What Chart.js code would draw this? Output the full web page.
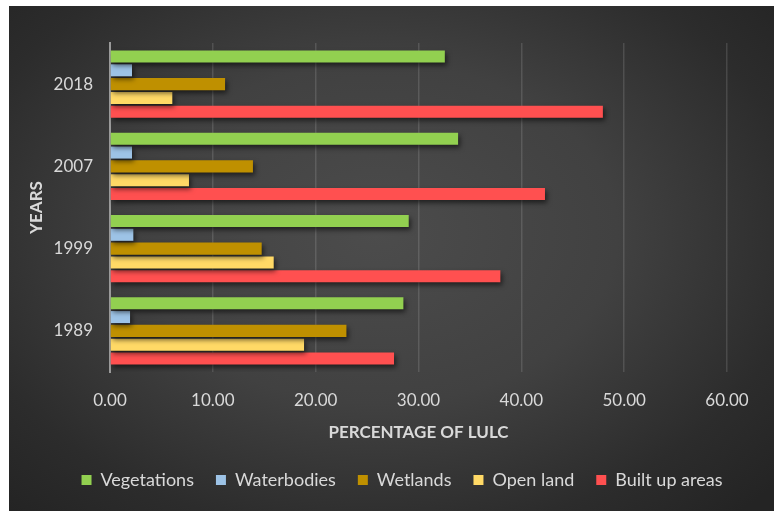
<!DOCTYPE html>
<html>
<head>
<meta charset="utf-8">
<script src="https://cdn.jsdelivr.net/npm/chart.js@4"></script>
<style>
    body { margin: 0; background: #fff; }
    #wrap { position: absolute; left: 9px; top: 6px; width: 765px; height: 505px; }
    #lulcChart {
        background: radial-gradient(ellipse 70% 75% at 48% 45%, #4c4c4c 0%, #414141 45%, #2c2c2c 80%, #242424 100%);
    }
</style>
</head>
<body>
<div id="wrap"><canvas id="lulcChart" width="765" height="505"></canvas></div>
<script>
"use strict";

var years = ['2018', '2007', '1999', '1989'];
var vegetations = [32.56, 33.85, 29.05, 28.53];
var waterbodies = [2.14, 2.14, 2.27, 1.95];
var wetlands = [11.19, 13.90, 14.75, 22.99];
var openLand = [6.06, 7.68, 15.92, 18.87];
var builtUp = [47.93, 42.30, 37.96, 27.62];

(function () {
    var textColor = '#d9d9d9';
    var fontFamily = 'Lato, "Open Sans", sans-serif';

    // soft drop shadow under the bars
    var barShadow = {
        id: 'barShadow',
        beforeDatasetsDraw: function (chart) {
            var ctx = chart.ctx;
            ctx.save();
            ctx.shadowColor = 'rgba(0, 0, 0, 0.55)';
            ctx.shadowBlur = 5;
            ctx.shadowOffsetX = 2;
            ctx.shadowOffsetY = 3;
        },
        afterDatasetsDraw: function (chart) {
            chart.ctx.restore();
        }
    };

    // legend sits a bit right of the plot centre, like the original
    var legendShift = {
        id: 'legendShift',
        afterLayout: function (chart) {
            chart.legend.right += 68;
        }
    };

    function series(label, data, color) {
        return {
            label: label,
            data: data,
            backgroundColor: color,
            borderWidth: 0,
            categoryPercentage: 0.84,
            barPercentage: 0.87
        };
    }

    var ctx = document.getElementById('lulcChart');
    var lulcChart = new Chart(ctx, {
        type: 'bar',
        data: {
            labels: years,
            datasets: [
                series('Vegetations', vegetations, '#92d050'),
                series('Waterbodies', waterbodies, '#9dc3e6'),
                series('Wetlands', wetlands, '#bf9000'),
                series('Open land', openLand, '#ffd966'),
                series('Built up areas', builtUp, '#ff5050')
            ]
        },
        options: {
            indexAxis: 'y',
            responsive: false,
            animation: false,
            layout: {
                padding: { top: 37, right: 47, left: 0, bottom: 12 }
            },
            plugins: {
                tooltip: { enabled: false },
                legend: {
                    position: 'bottom',
                    labels: {
                        color: textColor,
                        boxWidth: 10,
                        boxHeight: 10,
                        padding: 22,
                        font: { family: fontFamily, size: 18 }
                    }
                }
            },
            scales: {
                x: {
                    min: 0,
                    max: 60,
                    ticks: {
                        stepSize: 10,
                        color: textColor,
                        padding: 18,
                        font: { family: fontFamily, size: 17 },
                        callback: function (value) {
                            return value.toFixed(2);
                        }
                    },
                    grid: {
                        drawTicks: false,
                        lineWidth: 1.5,
                        color: function (c) {
                            return c.index === 0 ? 'rgba(0,0,0,0)' : 'rgba(255, 255, 255, 0.13)';
                        }
                    },
                    border: { display: false },
                    title: {
                        display: true,
                        text: 'PERCENTAGE OF LULC',
                        color: textColor,
                        font: { family: fontFamily, size: 17, weight: 'bold' },
                        padding: { top: 0, bottom: 6 }
                    },
                    afterFit: function (scale) {
                        scale.height = 77;
                    }
                },
                y: {
                    ticks: {
                        color: textColor,
                        padding: 17,
                        font: { family: fontFamily, size: 17 }
                    },
                    grid: { display: false, drawTicks: false },
                    border: { display: true, color: '#9a9a9a', width: 2 },
                    title: {
                        display: true,
                        text: 'YEARS',
                        color: textColor,
                        font: { family: fontFamily, size: 17, weight: 'bold' },
                        padding: { top: 17, bottom: 0 }
                    },
                    afterFit: function (scale) {
                        scale.width = 101;
                    }
                }
            }
        },
        plugins: [barShadow, legendShift]
    });
})();
</script>
</body>
</html>
